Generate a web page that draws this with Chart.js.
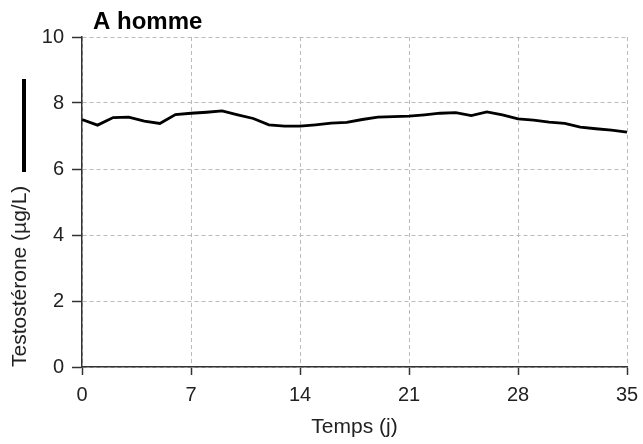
<!DOCTYPE html>
<html>
<head>
<meta charset="utf-8">
<script src="https://cdn.jsdelivr.net/npm/chart.js@4.4.1/dist/chart.umd.min.js"></script>
<style>
  html, body { margin: 0; padding: 0; background: #fff; }
  #wrap { position: relative; width: 643px; height: 444px; }
  #bar { position: absolute; left: 22px; top: 79px; width: 4px; height: 93px; background: #000; }
</style>
</head>
<body>
<div id="wrap">
  <canvas id="chart" width="643" height="444"></canvas>
  <div id="bar"></div>
</div>
<script>
// jours 0..35
const jours = Array.from({length: 36}, (_, i) => i);
const testosterone = [7.50, 7.33, 7.56, 7.57, 7.45, 7.38, 7.65, 7.69, 7.72, 7.76,
                      7.64, 7.53, 7.34, 7.30, 7.30, 7.34, 7.39, 7.41, 7.50, 7.57,
                      7.59, 7.60, 7.64, 7.69, 7.71, 7.62, 7.73, 7.64, 7.52, 7.48,
                      7.42, 7.38, 7.27, 7.22, 7.18, 7.12];
const xTicks = [0, 7, 14, 21, 28, 35];
const yTicks = [0, 2, 4, 6, 8, 10];

const FONT = "'Liberation Sans', Arial, sans-serif";

// titre "A homme" en haut à gauche de la zone du graphique
const titrePlugin = {
    id: 'titre',
    afterDraw(chart) {
        const ctx = chart.ctx;
        ctx.save();
        ctx.font = "bold 24px " + FONT;
        ctx.fillStyle = '#000';
        ctx.textBaseline = 'alphabetic';
        ctx.fillText('A homme', chart.chartArea.left + 11, 29);
        ctx.restore();
    }
};

const pts = jours.map((j, i) => ({x: j, y: testosterone[i]}));

new Chart(document.getElementById('chart'), {
    type: 'line',
    data: {
        datasets: [{
            data: pts,
            borderColor: '#000',
            borderWidth: 2.8,
            pointRadius: 0,
            tension: 0,
            fill: false
        }]
    },
    options: {
        responsive: false,
        animation: false,
        layout: { padding: { top: 37, right: 16, left: 8, bottom: 0 } },
        plugins: { legend: { display: false }, tooltip: { enabled: false } },
        scales: {
            x: {
                type: 'linear',
                min: 0, max: 35,
                afterBuildTicks: s => { s.ticks = xTicks.map(v => ({value: v})); },
                afterFit: s => { s.height = 77; s.paddingRight = 0; s.paddingLeft = 0; },
                ticks: { color: '#222', font: { family: FONT, size: 20 }, padding: 8 },
                grid: { color: '#bbb', lineWidth: 1, tickColor: '#333', tickLength: 8, tickWidth: 1.5 },
                border: { color: '#333', width: 1.5, dash: [4, 3] },
                title: { display: true, text: 'Temps (j)', color: '#222', font: { family: FONT, size: 21 }, padding: { top: 0 } }
            },
            y: {
                min: 0, max: 10,
                afterBuildTicks: s => { s.ticks = yTicks.map(v => ({value: v})); },
                afterFit: s => { s.width = 74; },
                ticks: { color: '#222', font: { family: FONT, size: 20 }, padding: 8 },
                grid: { color: '#bbb', lineWidth: 1, tickColor: '#333', tickLength: 10, tickWidth: 1.5 },
                border: { color: '#333', width: 1.5, dash: [4, 3] },
                title: { display: true, text: 'Testostérone (µg/L)', align: 'start', color: '#222', font: { family: FONT, size: 21 }, padding: 0 }
            }
        }
    },
    plugins: [titrePlugin]
});
</script>
</body>
</html>
